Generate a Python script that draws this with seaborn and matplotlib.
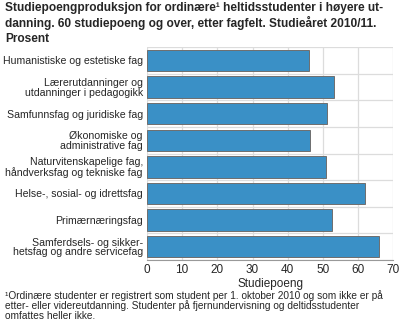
import matplotlib
matplotlib.use("Agg")
import matplotlib.pyplot as plt
import seaborn as sns
import pandas as pd
import numpy as np

categories = [
    "Humanistiske og estetiske fag",
    "Lærerutdanninger og\nutdanninger i pedagogikk",
    "Samfunnsfag og juridiske fag",
    "Økonomiske og\nadministrative fag",
    "Naturvitenskapelige fag,\nhåndverksfag og tekniske fag",
    "Helse-, sosial- og idrettsfag",
    "Primærnæringsfag",
    "Samferdsels- og sikker-\nhetsfag og andre servicefag",
]
values = [46.0, 53.3, 51.2, 46.3, 50.8, 61.9, 52.5, 65.9]
xticks = [0, 10, 20, 30, 40, 50, 60, 70]

title = ("Studiepoengproduksjon for ordinære¹ heltidsstudenter i høyere ut-\n"
         "danning. 60 studiepoeng og over, etter fagfelt. Studieåret 2010/11.\n"
         "Prosent")
xlabel = "Studiepoeng"
footnote = ("¹Ordinære studenter er registrert som student per 1. oktober 2010 og som ikke er på\n"
            "etter- eller videreutdanning. Studenter på fjernundervisning og deltidsstudenter\n"
            "omfattes heller ikke.")

sns.set_style("white")
plt.rcParams['font.family'] = ['Liberation Sans', 'DejaVu Sans']

df = pd.DataFrame({"fag": categories, "poeng": values})

fig = plt.figure(figsize=(4, 3.25), dpi=100)
ax = fig.add_axes([0.3675, 0.2, 0.6155, 0.655])

sns.barplot(data=df, y="fag", x="poeng", color="#3a90c6", saturation=1, width=0.8,
            edgecolor="#6e6e6e", linewidth=0.7, ax=ax, zorder=3)

ax.set_xlim(0, 70)
ax.set_ylim(len(categories) - 0.5, -0.5)
ax.set_xticks(xticks)
ax.set_xticklabels([str(t) for t in xticks], fontsize=8.5)
ax.set_yticks(range(len(categories)))
ax.set_yticklabels(categories, fontsize=7.6, linespacing=0.95)
ax.set_yticks(np.arange(-0.5, len(categories), 1), minor=True)
ax.tick_params(axis='both', which='both', length=0)
ax.tick_params(axis='y', pad=3)
ax.tick_params(axis='x', pad=3)
ax.grid(True, axis='x', which='major', color='#dcdcdc', linewidth=0.9, zorder=0)
ax.grid(True, axis='y', which='minor', color='#dcdcdc', linewidth=0.9, zorder=0)
ax.grid(False, axis='y', which='major')
ax.set_axisbelow(True)
for s in ["top", "right", "left"]:
    ax.spines[s].set_visible(False)
ax.spines["bottom"].set_color("#999999")
ax.spines["bottom"].set_linewidth(0.8)
ax.set_ylabel("")
ax.set_xlabel(xlabel, fontsize=8.5, labelpad=1)

fig.text(0.0125, 0.995, title, fontsize=8.6, fontweight='bold', va='top', ha='left', linespacing=1.25)
fig.text(0.0125, 0.108, footnote, fontsize=7.3, va='top', ha='left', linespacing=0.95)

fig.savefig("out.png", dpi=100)
